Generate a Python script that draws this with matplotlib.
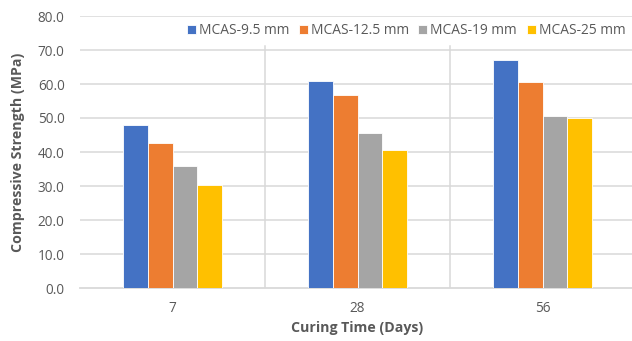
import matplotlib
matplotlib.use("Agg")
import matplotlib.pyplot as plt
import numpy as np

categories = ["7", "28", "56"]
series_names = ["MCAS-9.5 mm", "MCAS-12.5 mm", "MCAS-19 mm", "MCAS-25 mm"]
mcas_9_5 = [48.0, 60.9, 67.1]
mcas_12_5 = [42.6, 56.7, 60.5]
mcas_19 = [35.8, 45.7, 50.6]
mcas_25 = [30.3, 40.6, 50.1]
y_ticks = [0, 10, 20, 30, 40, 50, 60, 70, 80]

colors = ["#4472C4", "#ED7D31", "#A5A5A5", "#FFC000"]
values = [mcas_9_5, mcas_12_5, mcas_19, mcas_25]

plt.rcParams['font.family'] = ['Open Sans', 'DejaVu Sans']
text_color = "#595959"
grid_color = "#D9D9D9"

fig = plt.figure(figsize=(6.32, 3.41), dpi=100)
ax = fig.add_axes([80/632, 53/341, 555/632, 272/341])

x = np.arange(len(categories))
bw = 0.135
for i, (name, vals, c) in enumerate(zip(series_names, values, colors)):
    offs = (i - 1.5) * bw
    ax.bar(x + offs, vals, width=bw, color=c, edgecolor="white", linewidth=0.6,
           label=name, zorder=3)

ax.set_xlim(-0.5, len(categories) - 0.5)
ax.set_ylim(0, 80)
ax.set_yticks(y_ticks)
ax.set_yticklabels([f"{v:.1f}" for v in y_ticks])
ax.set_xticks(x)
ax.set_xticklabels(categories)
ax.tick_params(axis="both", length=0, labelsize=9.8, colors=text_color)
ax.tick_params(axis="y", pad=11)
ax.tick_params(axis="x", pad=9)

for yv in y_ticks[1:]:
    ax.axhline(yv, color=grid_color, linewidth=1.1, zorder=1)
for b in [0.5, 1.5]:
    ax.axvline(b, ymin=0, ymax=0.89, color=grid_color, linewidth=1.1, zorder=1)

for s in ["left", "right", "top"]:
    ax.spines[s].set_visible(False)
ax.spines["bottom"].set_color(grid_color)
ax.spines["bottom"].set_linewidth(1.3)

ax.set_xlabel("Curing Time (Days)", fontsize=10.2, fontweight="bold", color=text_color, labelpad=4)
ax.set_ylabel("Compressive Strength (MPa)", fontsize=10.2, fontweight="bold", color=text_color, labelpad=9)

leg = ax.legend(loc="center", bbox_to_anchor=(406/632, 1 - 31/341), bbox_transform=fig.transFigure,
                ncol=4, frameon=True, fontsize=9.9, handlelength=0.65, handleheight=0.65,
                handletextpad=0.22, columnspacing=0.7, borderaxespad=0, borderpad=0.2)
leg.get_frame().set_facecolor("white")
leg.get_frame().set_edgecolor("none")
for t in leg.get_texts():
    t.set_color(text_color)

fig.savefig("out.png", dpi=100)
